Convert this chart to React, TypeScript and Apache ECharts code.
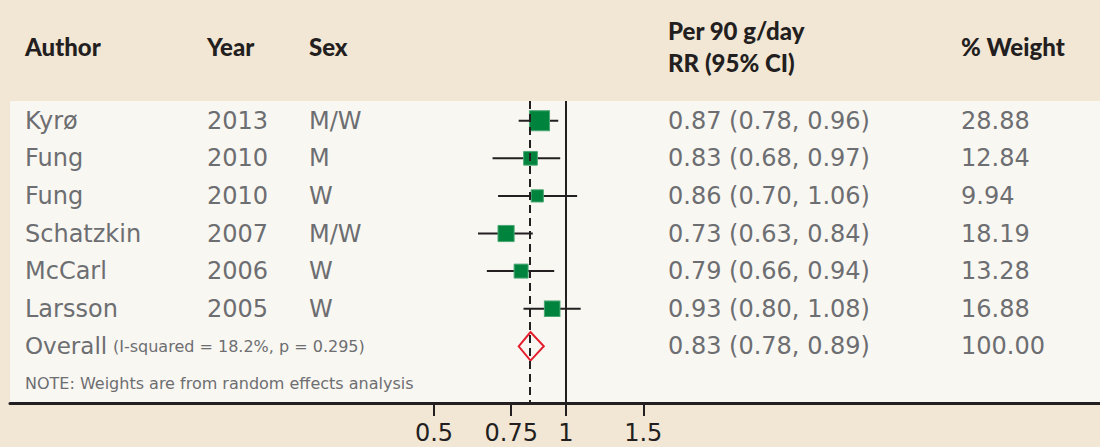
import React, { useEffect, useRef } from "react";
import * as echarts from "echarts";

// ---- data ----
const authors = ["Kyrø", "Fung", "Fung", "Schatzkin", "McCarl", "Larsson"];
const years = ["2013", "2010", "2010", "2007", "2006", "2005"];
const sexes = ["M/W", "M", "W", "M/W", "W", "W"];
const rrValues = [0.87, 0.83, 0.86, 0.73, 0.79, 0.93];
const lowerCI = [0.78, 0.68, 0.7, 0.63, 0.66, 0.8];
const upperCI = [0.96, 0.97, 1.06, 0.84, 0.94, 1.08];
const weights = [28.88, 12.84, 9.94, 18.19, 13.28, 16.88];

const overallRR = 0.83;
const overallLower = 0.78;
const overallUpper = 0.89;
const overallWeight = "100.00";
const overallLabel = "Overall";
const heterogeneityLabel = "(I-squared = 18.2%, p = 0.295)";
const noteLabel = "NOTE: Weights are from random effects analysis";

const tickValues = [0.5, 0.75, 1, 1.5];
const tickLabels = ["0.5", "0.75", "1", "1.5"];

const headerAuthor = "Author";
const headerYear = "Year";
const headerSex = "Sex";
const headerRR1 = "Per 90 g/day";
const headerRR2 = "RR (95% CI)";
const headerWeight = "% Weight";

// ---- styling ----
const BG = "#f2e6d5";
const PANEL = "#f9f7f2";
const INK = "#231f20";
const GREY = "#6d6e71";
const GREEN = "#00843d";
const RED = "#e31e2d";
const BODY_FONT = "'DejaVu Sans', sans-serif";
const HEAD_FONT = "Lato, 'Open Sans', sans-serif";

const fmt = (v: number) => v.toFixed(2);
const rrText = rrValues.map((v, i) => `${fmt(v)} (${fmt(lowerCI[i])}, ${fmt(upperCI[i])})`);
const overallText = `${fmt(overallRR)} (${fmt(overallLower)}, ${fmt(overallUpper)})`;
const weightText = weights.map((w) => w.toFixed(2));

const ln = Math.log;

function textColumn(name: string, strings: string[], startRow: number, x: number, size: number, color = GREY) {
  return {
    type: "custom",
    name,
    z: 6,
    silent: true,
    clip: false,
    data: strings.map((_, i) => [0, startRow + i]),
    renderItem: (params: any, api: any) => {
      const y = api.coord([0, api.value(1)])[1];
      return {
        type: "text",
        style: {
          text: strings[params.dataIndex],
          x,
          y,
          fill: color,
          fontSize: size,
          fontFamily: BODY_FONT,
          align: "left",
          verticalAlign: "middle",
        },
      };
    },
  };
}

export default function App() {
  const ref = useRef<HTMLDivElement>(null);

  useEffect(() => {
    if (!ref.current) return;
    const chart = echarts.init(ref.current, undefined, { renderer: "svg" });

    const squares = rrValues.map((v, i) => ({
      value: [ln(v), i],
      symbolSize: 3.55 * Math.sqrt(weights[i]) + 1,
    }));

    const header = (text: string, x: number, y: number) => ({
      type: "text",
      x,
      y,
      silent: true,
      style: {
        text,
        fill: INK,
        fontSize: 24,
        fontWeight: 900,
        fontFamily: HEAD_FONT,
        align: "left",
        verticalAlign: "middle",
      },
    });

    const option: any = {
      animation: false,
      backgroundColor: BG,
      grid: {
        show: true,
        left: 10,
        right: 0,
        top: 101,
        bottom: 44,
        backgroundColor: PANEL,
        borderWidth: 0,
      },
      xAxis: {
        type: "value",
        min: -2.9186,
        max: 2.803,
        axisLine: { show: true, onZero: false, lineStyle: { color: INK, width: 3 } },
        axisTick: {
          show: true,
          inside: false,
          length: 13,
          customValues: tickValues.map(ln),
          lineStyle: { color: INK, width: 2 },
        },
        axisLabel: {
          show: true,
          customValues: tickValues.map(ln),
          margin: 18,
          color: INK,
          fontSize: 24,
          fontFamily: BODY_FONT,
          formatter: (val: number) => {
            let best = 0;
            tickValues.forEach((t, i) => {
              if (Math.abs(ln(t) - val) < Math.abs(ln(tickValues[best]) - val)) best = i;
            });
            return tickLabels[best];
          },
        },
        splitLine: { show: false },
      },
      yAxis: {
        type: "value",
        inverse: true,
        min: -0.524,
        max: 7.508,
        show: false,
      },
      graphic: [
        header(headerAuthor, 25, 46),
        header(headerYear, 207, 46),
        header(headerSex, 309, 46),
        header(headerRR1, 668, 30),
        header(headerRR2, 668, 62),
        header(headerWeight, 961, 46),
      ],
      series: [
        {
          type: "scatter",
          name: "reflines",
          data: [],
          z: 1,
          markLine: {
            silent: true,
            symbol: ["none", "none"],
            label: { show: false },
            data: [
              { xAxis: 0, lineStyle: { color: INK, width: 2, type: "solid" } },
              { xAxis: ln(overallRR), lineStyle: { color: INK, width: 2, type: [8, 5] } },
            ],
          },
        },
        {
          type: "custom",
          name: "ci",
          z: 2,
          silent: true,
          data: rrValues.map((_, i) => [ln(lowerCI[i]), ln(upperCI[i]), i]),
          encode: { x: [0, 1], y: 2 },
          renderItem: (params: any, api: any) => {
            const a = api.coord([api.value(0), api.value(2)]);
            const b = api.coord([api.value(1), api.value(2)]);
            return {
              type: "line",
              shape: { x1: a[0], y1: a[1], x2: b[0], y2: b[1] },
              style: { stroke: INK, lineWidth: 2 },
            };
          },
        },
        {
          type: "scatter",
          name: "rr",
          z: 3,
          symbol: "rect",
          data: squares,
          itemStyle: { color: GREEN, borderColor: "#4aa874", borderWidth: 1, opacity: 1 },
        },
        {
          type: "custom",
          name: "overall",
          z: 4,
          silent: true,
          data: [[ln(overallLower), ln(overallRR), ln(overallUpper), 6]],
          encode: { x: [0, 1, 2], y: 3 },
          renderItem: (params: any, api: any) => {
            const row = api.value(3);
            const l = api.coord([api.value(0), row]);
            const c = api.coord([api.value(1), row - 0.38]);
            const r = api.coord([api.value(2), row]);
            const b = api.coord([api.value(1), row + 0.38]);
            return {
              type: "polygon",
              shape: { points: [l, c, r, b] },
              style: { fill: "none", stroke: RED, lineWidth: 2 },
            };
          },
        },
        textColumn("author", authors, 0, 25, 24),
        textColumn("year", years, 0, 207, 24),
        textColumn("sex", sexes, 0, 309, 24),
        textColumn("rrtext", [...rrText, overallText], 0, 668, 24),
        textColumn("weight", [...weightText, overallWeight], 0, 961, 24),
        textColumn("overall", [overallLabel], 6, 25, 23),
        textColumn("het", [heterogeneityLabel], 6, 113, 16),
        textColumn("note", [noteLabel], 7, 25, 16),
      ],
    };

    chart.setOption(option);
    return () => chart.dispose();
  }, []);

  return (
    <div
      ref={ref}
      style={{ position: "fixed", left: 0, top: 0, width: 1100, height: 447 }}
    />
  );
}
